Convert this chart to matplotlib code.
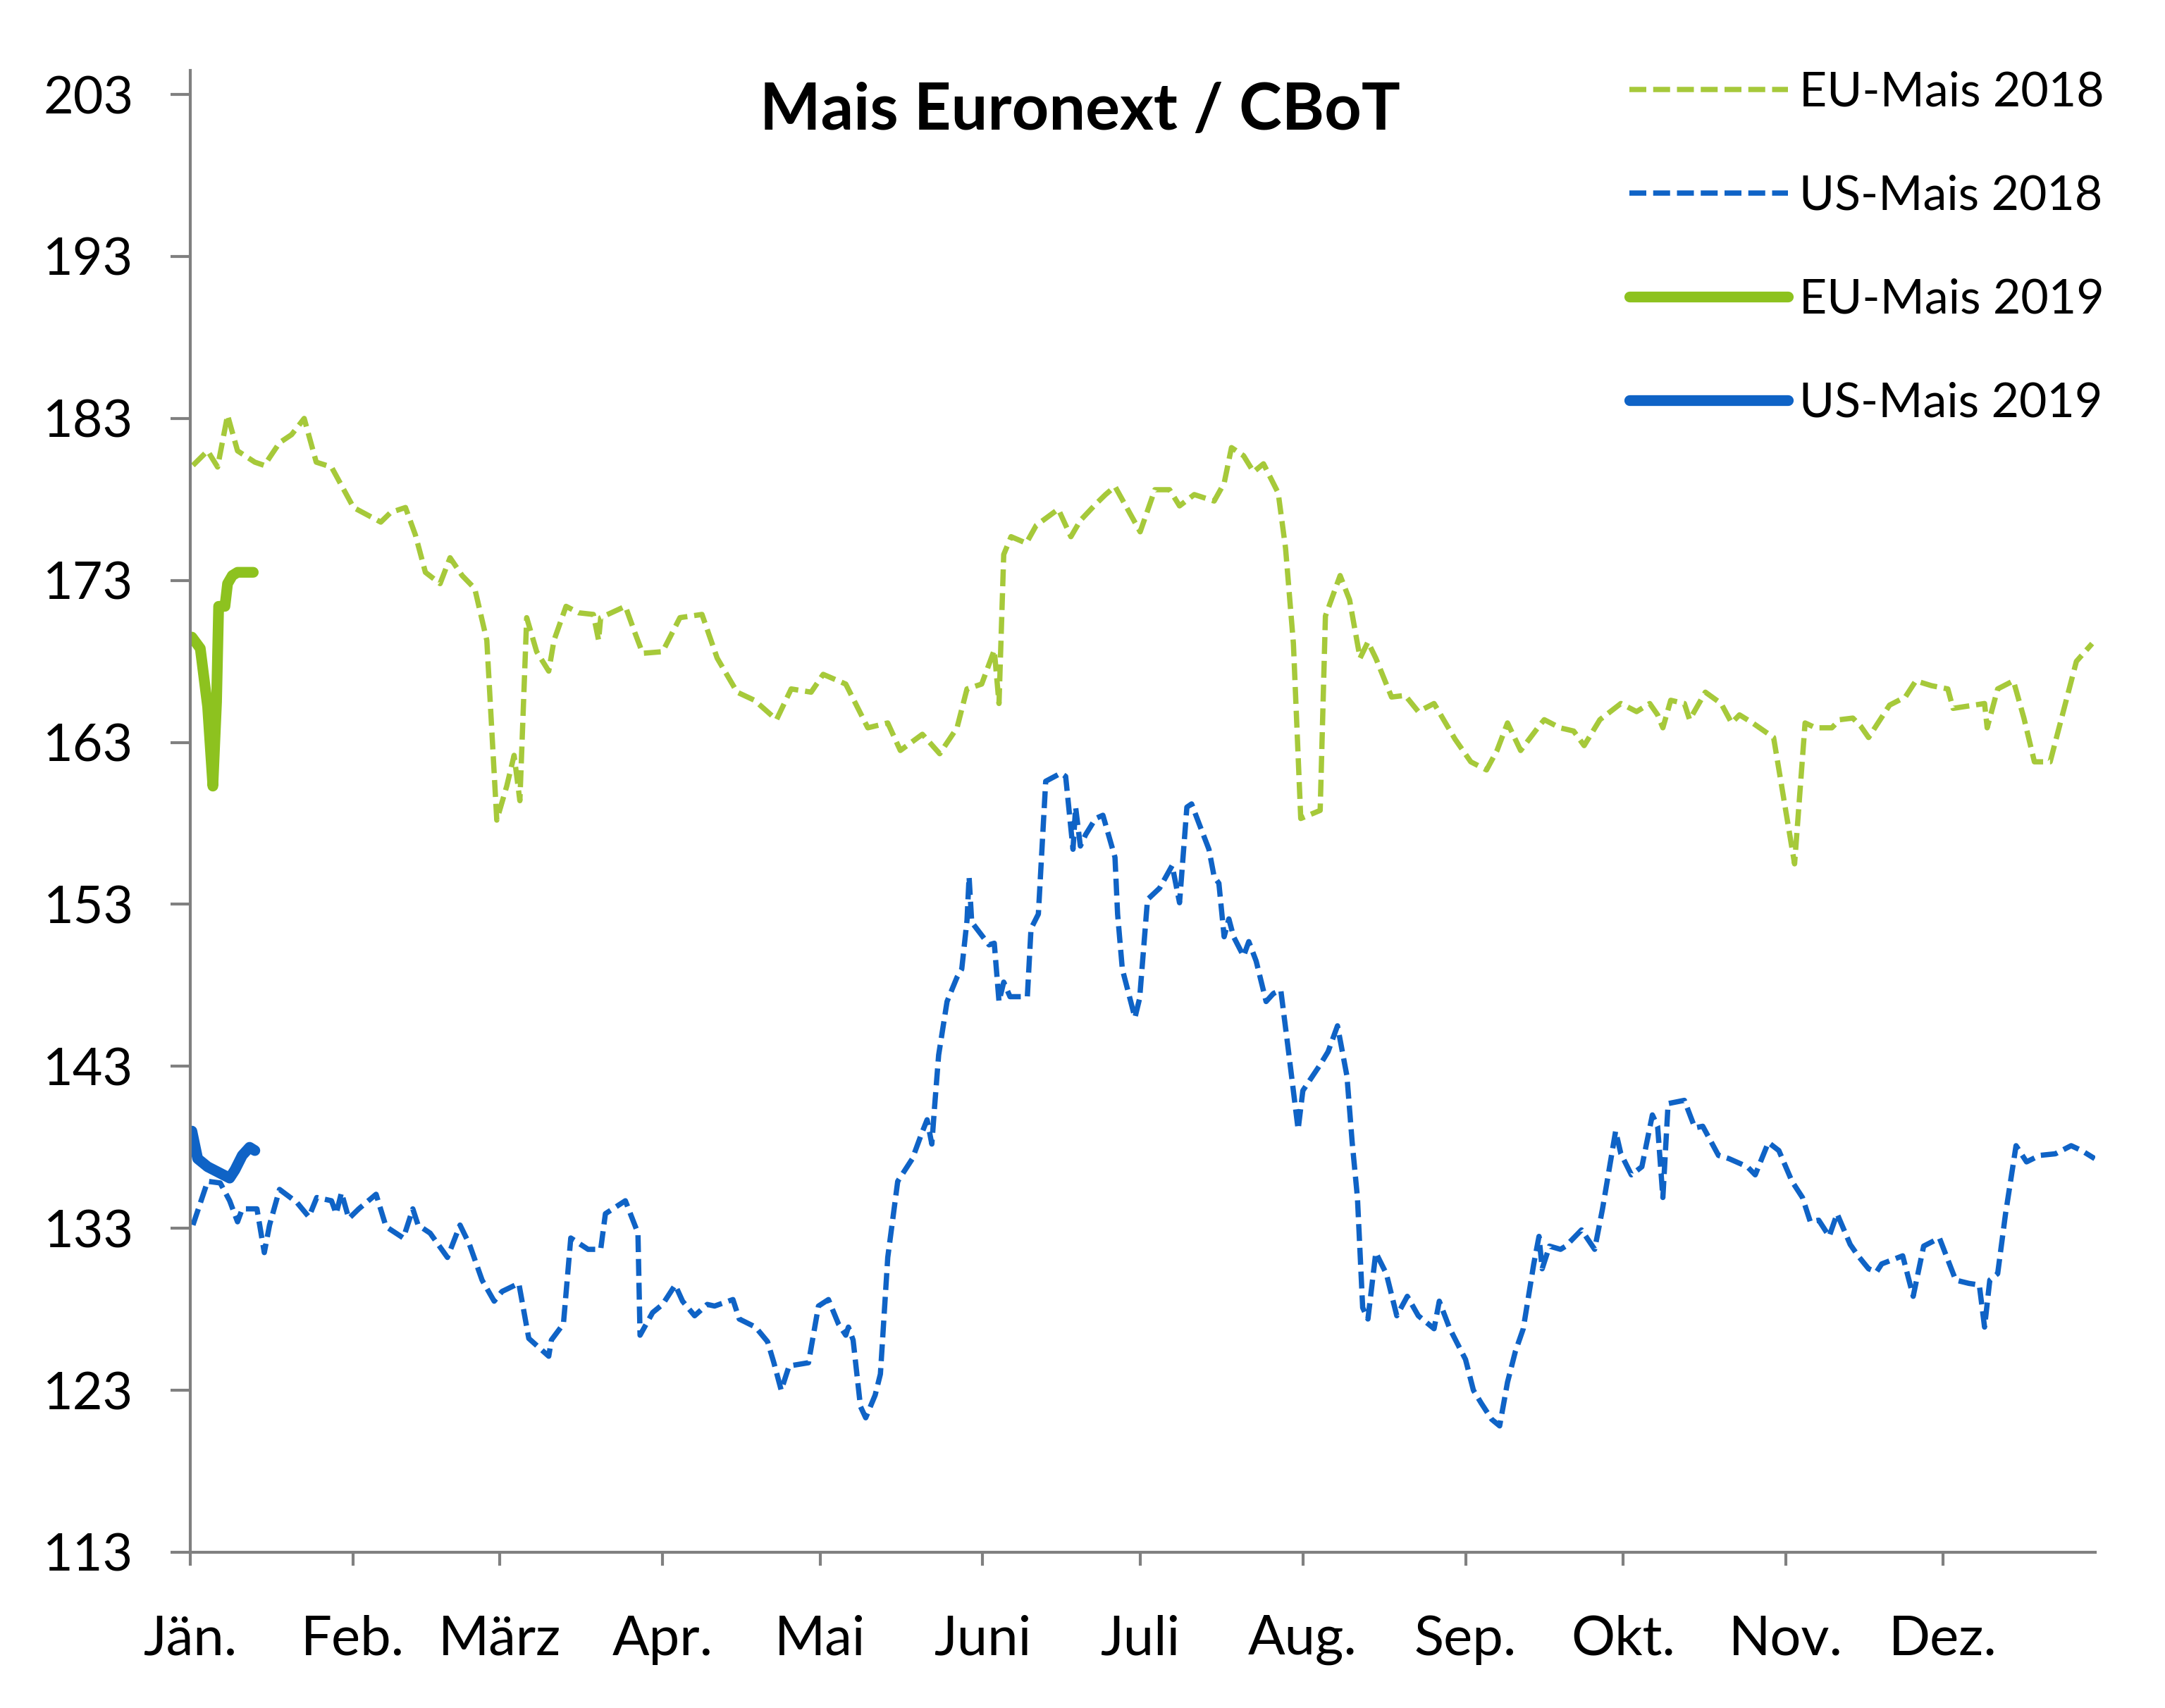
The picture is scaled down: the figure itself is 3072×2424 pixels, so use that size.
import matplotlib
matplotlib.use('Agg')
import matplotlib.pyplot as plt

plt.rcParams['font.family'] = ['Lato', 'DejaVu Sans']

# Tag im Jahr (0 = 1. Jänner) und Kurs
eu18_day = [0.5, 3.3, 5.2, 7.1, 9, 12.3, 14.1, 17, 19.3, 21.7, 24, 26.9, 31.1, 36.3, 38.2, 41,
            42.9, 44.8, 47.6, 49.5, 51.8, 54.2, 56.5, 58.4, 60.3, 61.7, 62.8, 64.1, 66, 68.3,
            69.3, 71.6, 74, 76.8, 77.8, 78.2, 82.9, 84.8, 86.2, 90, 93.3, 97.5, 100.4, 104.2,
            107.5, 111.7, 114.5, 118.3, 120.6, 124.9, 129.1, 132.9, 135.3, 139.5, 142.8, 146.1,
            148, 150.8, 153.2, 154.1, 155, 156.4, 159.3, 161.2, 165.4, 167.8, 169.6, 172.5,
            174.4, 176.2, 178.6, 181, 183.8, 186.6, 188.5, 191.3, 195.1, 197, 198.4, 200.7,
            202.6, 204.5, 207.3, 208.7, 210.2, 211.6, 215.3, 216.3, 219.1, 220.9, 222.9, 224.4,
            225.9, 228.9, 231.5, 234, 237, 241, 244, 247, 249, 251, 253.5, 257, 258, 261,
            263.6, 265.6, 268.6, 272.6, 275.6, 278.1, 279.6, 280.6, 282.1, 284.7, 285.7, 288.7,
            291.7, 293.7, 295.2, 297.7, 301.7, 305.7, 307.7, 309.7, 312.8, 314.3, 316.8, 318.3,
            319.8, 323.8, 326.8, 328.8, 331.8, 334.9, 335.9, 341.9, 342.4, 344.4, 347.4, 349.4,
            351.4, 354.4, 359.4, 362.4]
eu18_val = [180.1, 181.0, 180.0, 183.2, 181.0, 180.3, 180.1, 181.5, 182.0, 183.0, 180.3, 180.0,
            177.5, 176.6, 177.2, 177.5, 175.8, 173.5, 172.8, 174.4, 173.3, 172.5, 169.3, 158.2,
            160.3, 162.2, 159.4, 170.7, 168.6, 167.4, 169.3, 171.4, 171.0, 170.9, 169.3, 170.7,
            171.4, 169.7, 168.5, 168.6, 170.7, 170.9, 168.2, 166.1, 165.6, 164.4, 166.3, 166.1,
            167.2, 166.6, 163.9, 164.2, 162.5, 163.5, 162.3, 163.9, 166.3, 166.6, 168.7, 165.4,
            174.6, 175.7, 175.3, 176.4, 177.4, 175.7, 176.7, 177.7, 178.3, 178.8, 177.4, 176.0,
            178.6, 178.6, 177.6, 178.3, 177.9, 179.0, 181.2, 180.7, 179.7, 180.2, 178.4, 175.0,
            169.1, 158.3, 158.8, 170.8, 173.3, 171.8, 168.2, 169.2, 168.2, 165.8, 165.9, 164.9,
            165.4, 163.2, 161.8, 161.3, 162.5, 164.2, 162.5, 164.0, 164.4, 163.9, 163.7, 162.8,
            164.4, 165.4, 164.9, 165.4, 164.7, 163.9, 165.6, 165.4, 164.4, 166.1, 165.4, 164.2,
            164.7, 164.2, 163.3, 155.5, 164.2, 163.9, 163.9, 164.4, 164.5, 164.0, 163.3, 165.3,
            165.8, 166.8, 166.5, 166.3, 165.1, 165.4, 163.9, 166.3, 166.8, 164.5, 161.8, 161.8,
            168.0, 169.1]

us18_day = [0.5, 3.3, 5.7, 7.5, 9, 9.9, 12.7, 14.1, 15.1, 17, 20.3, 22.6, 24.1, 26.9, 27.8,
            28.8, 30.2, 32.1, 35.4, 37.3, 40.6, 42.4, 43.4, 45.7, 49, 51.4, 53.2, 55.6, 57.9,
            59.4, 62.6, 64.5, 68.3, 68.8, 71.1, 72.5, 75.8, 78.2, 79.1, 82.9, 85.3, 85.7, 88.1,
            90, 92.4, 93.8, 96.1, 98.5, 99.9, 103.4, 104.6, 107.7, 110, 111.2, 112.6, 114.1,
            117.8, 119.7, 121.6, 123.5, 124.9, 125.4, 126.3, 127.7, 128.7, 130.5, 131.5, 132.9,
            134.8, 137.6, 139.3, 140.4, 141.3, 141.8, 142.6, 144.2, 146.1, 147, 148, 148.4,
            148.9, 152.2, 153.2, 154.1, 155, 156.2, 159.5, 160.2, 161.6, 163, 165.9, 166.8,
            168.2, 168.7, 169.6, 170.6, 172.5, 173.9, 176.2, 176.7, 177.6, 180, 180.9, 182.4,
            184.7, 187.1, 188.5, 189.9, 190.8, 192.2, 194.1, 195.1, 196, 197, 197.9, 198.8,
            200.7, 201.7, 203.1, 205, 206.4, 207.8, 209.2, 211.1, 212, 215.3, 216.8, 218.6,
            220.4, 221.4, 222.4, 223.4, 224.4, 225.9, 227.9, 229.9, 231.9, 234, 237, 238, 240,
            243, 244.5, 246, 248, 249.5, 251, 252.5, 254, 256, 257, 257.6, 259, 261.1, 262.1,
            265.1, 267.6, 269.1, 271.6, 272.6, 274.6, 276.6, 278.6, 279.6, 280.6, 281.6, 284.7,
            286.7, 288.2, 291.2, 293.2, 296.7, 298.2, 300.7, 302.7, 305.2, 307.2, 308.7, 310.3,
            312.3, 313.8, 316.3, 317.8, 319.8, 321.3, 322.3, 326.3, 328.3, 330.3, 333.3, 336.4,
            338.9, 340.9, 341.9, 342.9, 344.4, 345.9, 347.9, 349.9, 352.4, 355.4, 358.4, 360.4,
            362.9]
us18_val = [133.2, 135.9, 135.8, 134.7, 133.4, 134.2, 134.2, 131.5, 133.2, 135.4, 134.6, 133.7,
            134.9, 134.7, 133.9, 135.2, 133.6, 134.2, 135.1, 133.1, 132.4, 134.2, 133.2, 132.7,
            131.2, 133.2, 132.0, 129.8, 128.5, 129.1, 129.6, 126.2, 125.1, 126.1, 127.1, 132.4,
            131.7, 131.7, 133.9, 134.7, 132.7, 126.4, 127.8, 128.3, 129.5, 128.5, 127.6, 128.3,
            128.2, 128.6, 127.4, 126.9, 126.0, 124.7, 123.0, 124.5, 124.7, 128.2, 128.6, 127.1,
            126.4, 126.9, 126.1, 122.0, 121.3, 122.7, 124.0, 131.2, 135.9, 137.3, 138.8, 139.7,
            138.2, 140.4, 143.7, 147.0, 148.5, 149.0, 152.0, 154.7, 151.9, 150.5, 150.6, 147.0,
            148.2, 147.3, 147.3, 151.5, 152.4, 160.6, 161.1, 160.9, 156.4, 159.0, 156.6, 157.3,
            158.3, 158.5, 155.9, 152.4, 149.0, 146.0, 147.2, 153.3, 154.0, 155.4, 153.1, 159.0,
            159.2, 158.0, 156.4, 154.7, 154.3, 151.0, 152.1, 151.0, 149.8, 150.7, 149.5, 147.0,
            147.5, 147.7, 144.1, 139.1, 141.5, 143.1, 143.9, 145.5, 142.4, 138.3, 134.9, 128.1,
            127.4, 131.5, 130.2, 127.6, 128.8, 127.6, 126.8, 128.5, 126.8, 124.9, 123.0, 122.2,
            121.2, 120.8, 123.5, 125.4, 126.8, 130.8, 132.5, 130.5, 131.9, 131.7, 131.9, 132.9,
            131.7, 134.2, 139.0, 137.6, 136.3, 136.8, 140.0, 139.3, 134.9, 140.7, 140.9, 139.2,
            139.3, 137.5, 137.3, 136.8, 136.3, 138.3, 137.8, 135.9, 134.9, 133.4, 133.5, 132.5,
            133.9, 132.0, 131.3, 130.5, 130.3, 130.8, 131.3, 128.8, 131.9, 132.4, 129.8, 129.6,
            129.5, 126.9, 129.8, 130.2, 133.9, 138.1, 137.1, 137.5, 137.6, 138.1, 137.8, 137.3]

eu19_day = [0.3, 1.9, 3.3, 4.3, 5.0, 5.4, 6.6, 7.1, 8.0, 9.0, 12.0]
eu19_val = [169.5, 168.8, 165.2, 160.3, 165.5, 171.4, 171.4, 172.8, 173.3, 173.5, 173.5]

us19_day = [0.3, 1.4, 3.3, 5.7, 7.5, 8.5, 9.9, 11.3, 12.3]
us19_val = [139.0, 137.3, 136.8, 136.4, 136.1, 136.6, 137.5, 138.0, 137.8]

month_starts = [0, 31, 59, 90, 120, 151, 181, 212, 243, 273, 304, 334]
month_labels = ['Jän.', 'Feb.', 'März', 'Apr.', 'Mai', 'Juni', 'Juli', 'Aug.', 'Sep.',
                'Okt.', 'Nov.', 'Dez.']
y_ticks = list(range(113, 204, 10))

GREEN_18 = '#a6c93a'
GREEN_19 = '#8dc21f'
BLUE = '#0f63c6'

fig = plt.figure(figsize=(15.36, 12.12), dpi=200)
ax = fig.add_axes([0.0879, 0.0912, 0.8799, 0.8677])

ax.plot(eu18_day, eu18_val, color=GREEN_18, lw=2.7, dashes=(3.2, 1.3), label='EU-Mais 2018')
ax.plot(us18_day, us18_val, color=BLUE, lw=2.7, dashes=(3.2, 1.3), label='US-Mais 2018')
ax.plot(eu19_day, eu19_val, color=GREEN_19, lw=5.5, solid_capstyle='round',
        solid_joinstyle='round', label='EU-Mais 2019')
ax.plot(us19_day, us19_val, color=BLUE, lw=5.5, solid_capstyle='round',
        solid_joinstyle='round', label='US-Mais 2019')

ax.set_xlim(0, 363)
ax.set_ylim(113, 204.5)
ax.set_xticks(month_starts)
ax.set_xticklabels(month_labels)
ax.set_yticks(y_ticks)

for side in ('top', 'right'):
    ax.spines[side].set_visible(False)
for side in ('left', 'bottom'):
    ax.spines[side].set_color('#808080')
    ax.spines[side].set_linewidth(1.5)

ax.tick_params(axis='y', length=10, width=1.5, color='#808080', pad=19, labelsize=26.5)
ax.tick_params(axis='x', length=7, width=1.5, color='#808080', pad=25, labelsize=28)

fig.text(0.499, 0.935, 'Mais Euronext / CBoT', ha='center', va='center',
         fontsize=33, fontweight='bold')

leg = fig.legend(loc='upper left', bbox_to_anchor=(0.7526, 0.9585), frameon=False,
                 fontsize=24.5, handlelength=3.3, handletextpad=0.24, labelspacing=1.25,
                 borderpad=0, borderaxespad=0)

fig.savefig('out.png', dpi=200)
